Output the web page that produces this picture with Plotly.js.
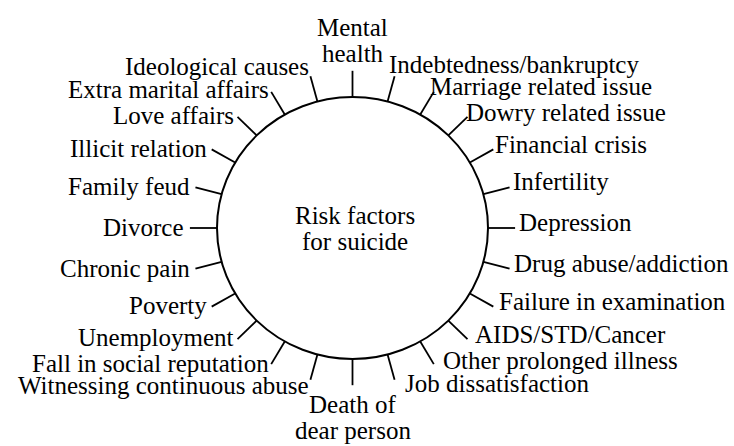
<!DOCTYPE html>
<html>
<head>
<meta charset="utf-8">
<script src="https://cdn.plot.ly/plotly-3.0.1.min.js"></script>
<style>html,body{margin:0;padding:0;background:#fff;}#chart{width:734px;height:446px;}#note{position:fixed;left:0;top:0;width:1px;height:1px;overflow:hidden;}</style>
</head>
<body>
<div id="chart"></div>
<div id="note"></div>
<script>
// Risk factors, clockwise from the top (equally spaced spokes)
const labels = [
  "Mental<br>health",
  "Indebtedness/bankruptcy",
  "Marriage related issue",
  "Dowry related issue",
  "Financial crisis",
  "Infertility",
  "Depression",
  "Drug abuse/addiction",
  "Failure in examination",
  "AIDS/STD/Cancer",
  "Other prolonged illness",
  "Job dissatisfaction",
  "Death of<br>dear person",
  "Witnessing continuous abuse",
  "Fall in social reputation",
  "Unemployment",
  "Poverty",
  "Chronic pain",
  "Divorce",
  "Family feud",
  "Illicit relation",
  "Love affairs",
  "Extra marital affairs",
  "Ideological causes"
];
const centerLabel = ["Risk factors", "for suicide"];

const FAMILY = "Liberation Serif, serif";
const FSIZE = 25;
const LINE_H = 26;
const SPOKE_OUT = 1.2;

const n = labels.length;
const step = 360 / n;
const sx = [], sy = [];
const annotations = [];

function mkFont() { return {family: FAMILY, size: FSIZE, color: "#000"}; }

labels.forEach((lab, i) => {
  const th = (90 - i * step) * Math.PI / 180;
  let c = Math.cos(th), s = Math.sin(th);
  if (Math.abs(c) < 1e-9) c = 0;
  if (Math.abs(s) < 1e-9) s = 0;
  sx.push(c, SPOKE_OUT * c, null);
  sy.push(s, SPOKE_OUT * s, null);
  const x = SPOKE_OUT * c, y = SPOKE_OUT * s;
  const lines = lab.split("<br>");
  const m = lines.length;
  lines.forEach((t, k) => {
    const a = {x: x, y: y, xref: "x", yref: "y", text: t, showarrow: false, font: mkFont()};
    if (c === 0) {
      a.xanchor = "center";
      if (s > 0) { a.yanchor = "bottom"; a.yshift = 2 + (m - 1 - k) * LINE_H; }
      else { a.yanchor = "top"; a.yshift = -4 - k * LINE_H; }
    } else {
      a.xanchor = c > 0 ? "left" : "right";
      a.yanchor = "middle";
      let pad;
      if (c > 0) pad = s > 0 ? 2 - 10 * s * s : 2 + 7 * s * s;
      else pad = -1 + 5 * c * c;
      a.xshift = c > 0 ? pad : -pad;
      const extra = Math.max(0, (Math.abs(s) - 0.85) / 0.15) * 10 * Math.sign(s);
      a.yshift = 3 + extra + 2.5 * c + ((m - 1) / 2 - k) * LINE_H;
    }
    annotations.push(a);
  });
});

centerLabel.forEach((t, k) => {
  annotations.push({x: 0, y: 0, xref: "x", yref: "y", text: t, showarrow: false,
    font: mkFont(), xanchor: "center", yanchor: "middle", xshift: 2,
    yshift: ((centerLabel.length - 1) / 2 - k) * LINE_H});
});

const trace = {x: sx, y: sy, type: "scatter", mode: "lines",
  line: {color: "#000", width: 1.8}, hoverinfo: "skip", showlegend: false};

// pixel geometry of the circle in the 734x446 frame
const cxPx = 352.5, cyPx = 228, rxPx = 135.5, ryPx = 131;
const layout = {
  width: 734, height: 446,
  margin: {l: 0, r: 0, t: 0, b: 0},
  paper_bgcolor: "#fff", plot_bgcolor: "#fff",
  showlegend: false,
  xaxis: {range: [-cxPx / rxPx, (734 - cxPx) / rxPx], visible: false, fixedrange: true},
  yaxis: {range: [-(446 - cyPx) / ryPx, cyPx / ryPx], visible: false, fixedrange: true},
  shapes: [{type: "circle", xref: "x", yref: "y", x0: -1, x1: 1, y0: -1, y1: 1,
    line: {color: "#000", width: 2}}],
  annotations: annotations
};

function draw() {
  return Plotly.newPlot("chart", [trace], layout, {displayModeBar: false, staticPlot: true}).then(() => {
    const t = document.querySelector(".annotation-text");
    document.getElementById("note").setAttribute("data-font", t ? getComputedStyle(t).fontFamily : "");
  });
}

draw();
if (document.fonts && document.fonts.load) {
  document.fonts.load(FSIZE + 'px "Liberation Serif"').then(() => document.fonts.ready).then(() => {
    Plotly.purge("chart");
    draw();
  }).catch(() => {});
}
</script>
</body>
</html>
